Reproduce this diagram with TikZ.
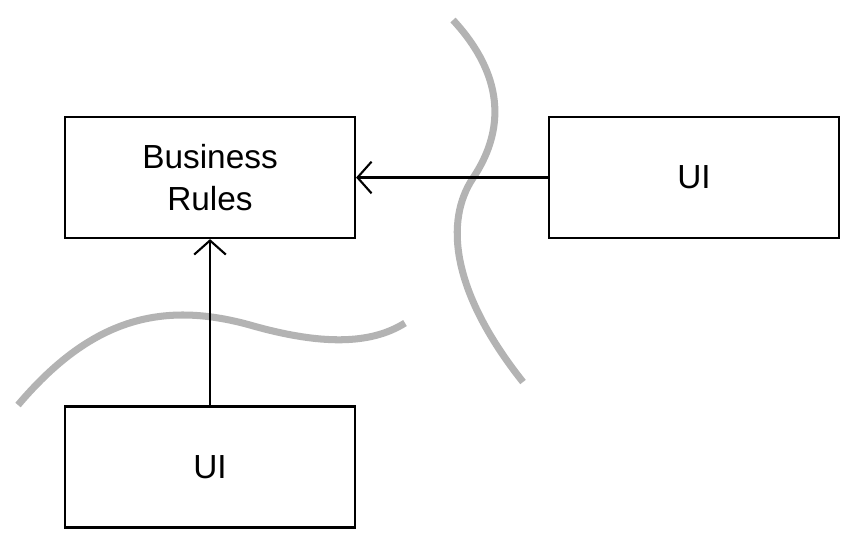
\documentclass[tikz,border=0pt]{standalone}
\usepackage{fontspec}
\setmainfont{Liberation Sans}
\usetikzlibrary{arrows.meta}
\definecolor{wallgray}{HTML}{B3B3B3}
\tikzset{%
    box/.style={draw, line width=0.6pt, minimum width=2.9cm, minimum height=1.21cm,
        align=center, font=\fontsize{9.5}{12}\selectfont}
}

\begin{document}
\begin{tikzpicture}[
            dep/.style={line width=0.6pt, -{Straight Barb[length=4pt, width=9pt]}},
            wall/.style={wallgray, line width=2pt}
            ]
            \useasboundingbox (0,0) rectangle (8.64,-5.50);
            \node[box] (rules) at (2.10,-1.775) {Business\\Rules};
            \node[box] (ui1) at (6.94,-1.775) {UI};
            \node[box] (ui2) at (2.10,-4.67) {UI};
            % boundaries
            \draw[wall] (0.18,-4.05) .. controls (0.90,-3.20) and (1.60,-3.00) .. (2.50,-3.25)
                .. controls (3.20,-3.45) and (3.70,-3.45) .. (4.05,-3.23);
            \draw[wall] (4.53,-0.20) .. controls (4.90,-0.60) and (5.15,-1.15) .. (4.73,-1.78)
                .. controls (4.45,-2.20) and (4.50,-2.90) .. (5.23,-3.82);
            \draw[dep] (ui2) -- (rules);
            \draw[dep] (ui1) -- (rules);
        \end{tikzpicture}
\end{document}
